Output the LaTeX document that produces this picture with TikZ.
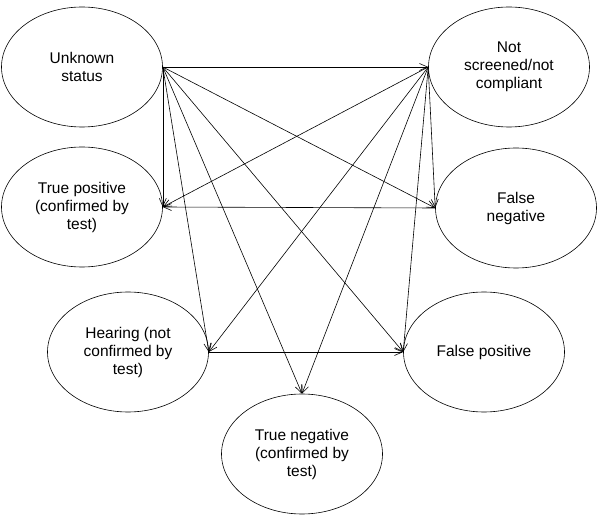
\documentclass[tikz,border=0pt]{standalone}
\usepackage{fontspec}
\setmainfont{Liberation Sans}
\usetikzlibrary{arrows.meta,shapes.geometric}
\tikzset{
	state/.style={draw, ellipse, minimum width=161pt, minimum height=120pt, inner sep=0pt, align=center, font=\fontsize{15.5}{18}\selectfont},
}
\begin{document}
\begin{tikzpicture}[x=1pt, y=-1pt, >={Straight Barb[length=8pt,width=7pt]}, line width=0.6pt]
		\useasboundingbox (0,0) rectangle (600,521);
		\node[state] (unk) at (82,67) {Unknown\\status};
		\node[state] (ns) at (509,67) {Not\\screened/not\\compliant};
		\node[state] (tp) at (82,207) {True positive\\(confirmed by\\test)};
		\node[state] (fn) at (516,208) {False\\negative};
		\node[state] (hear) at (128,352) {Hearing (not\\confirmed by\\test)};
		\node[state] (fp) at (484,352) {False positive};
		\node[state] (tn) at (302,454) {True negative\\(confirmed by\\test)};
		\foreach \t in {ns.west,tp.east,fn.west,hear.east,fp.west,tn.north}{
			\draw[->] (unk.east) -- (\t);
		}
		\foreach \t in {tp.east,fn.west,hear.east,fp.west,tn.north}{
			\draw[->] (ns.west) -- (\t);
		}
		\draw[->] (fn.west) -- (tp.east);
		\draw[->] (hear.east) -- (fp.west);
\end{tikzpicture}
\end{document}
